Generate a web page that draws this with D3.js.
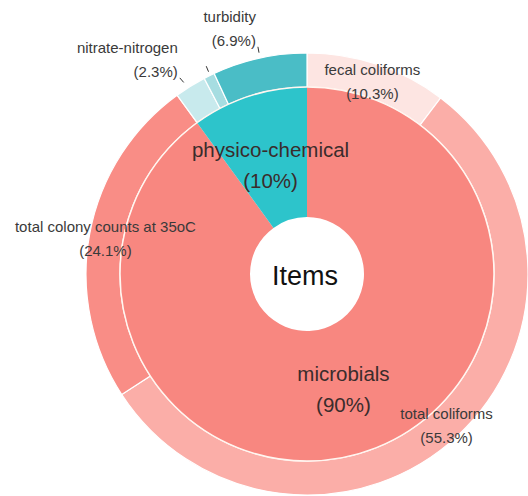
<!doctype html>
<html>
<head>
<meta charset="utf-8">
<script src="https://d3js.org/d3.v7.min.js"></script>
<style>
  body { margin: 0; background: #fff; }
  text { font-family: Arial, "Liberation Sans", sans-serif; }
</style>
</head>
<body>
<script>
// inner ring: groups
var categories = ["microbials", "physico-chemical"];
var categoryShares = [90, 10];
var categoryColors = ["#F88780", "#2DC4CB"];

// outer ring: items (one unlabeled sliver between nitrate-nitrogen and turbidity)
var items = ["fecal coliforms", "total coliforms", "total colony counts at 35oC", "nitrate-nitrogen", "", "turbidity"];
var itemGroup = ["microbials", "microbials", "microbials", "physico-chemical", "physico-chemical", "physico-chemical"];
var itemShares = [10.3, 55.3, 24.1, 2.3, 0.8, 6.9];
var itemColors = ["#FDE5E2", "#FBAEA8", "#F98D86", "#C8EAED", "#A6DDE1", "#4ABDC6"];

var width = 528, height = 496;
var cx = 307, cy = 274;
var rHole = 57, rInner = 187, rOuter = 221, rLabel = 205;

// labels that were pushed away from their slice
var repel = {
    "nitrate-nitrogen": [-21, -42],
    "": [-12, -44],
    "turbidity": [-7, -47]
};

var svg = d3.select("body").append("svg").attr("width", width).attr("height", height);
var g = svg.append("g").attr("transform", "translate(" + cx + "," + cy + ")");

var pie = d3.pie().sort(null).value(function (d) { return d.share; });
var groups = pie(categories.map(function (c, i) { return { name: c, share: categoryShares[i], color: categoryColors[i] }; }));

// place items inside their group's angle span
var outer = [];
groups.forEach(function (grp) {
    var idx = d3.range(items.length).filter(function (i) { return itemGroup[i] === grp.data.name; });
    var total = d3.sum(idx, function (i) { return itemShares[i]; });
    var a = d3.scaleLinear().domain([0, total]).range([grp.startAngle, grp.endAngle]);
    var acc = 0;
    idx.forEach(function (i) {
        outer.push({ name: items[i], share: itemShares[i], color: itemColors[i],
            startAngle: a(acc), endAngle: a(acc + itemShares[i]) });
        acc += itemShares[i];
    });
});

var arcInner = d3.arc().innerRadius(rHole).outerRadius(rInner);
var arcOuter = d3.arc().innerRadius(rInner).outerRadius(rOuter);

g.selectAll("path.outer")
    .data(outer)
    .enter()
    .append("path")
    .attr("class", "outer")
    .attr("d", arcOuter)
    .attr("fill", function (d) { return d.color; })
    .attr("stroke", "#fff")
    .attr("stroke-width", 1.2);

g.selectAll("path.inner")
    .data(groups)
    .enter()
    .append("path")
    .attr("class", "inner")
    .attr("d", arcInner)
    .attr("fill", function (d) { return d.data.color; })
    .attr("stroke", "none");

// thin ring between inner and outer
g.append("circle").attr("r", rInner).attr("fill", "none").attr("stroke", "#FFF6F0").attr("stroke-width", 1.5);

// inner labels
var arcInnerLabel = d3.arc().innerRadius(118).outerRadius(118);
groups.forEach(function (d) {
    var p = arcInnerLabel.centroid(d);
    var t = g.append("text").attr("text-anchor", "middle").attr("fill", "#3a2c2c").style("font-size", "20.5px");
    t.append("tspan").attr("x", p[0]).attr("y", p[1] - 5).text(d.data.name);
    t.append("tspan").attr("x", p[0]).attr("y", p[1] + 26).text("(" + d.data.share + "%)");
});

// outer labels
var arcLabel = d3.arc().innerRadius(rLabel).outerRadius(rLabel);
outer.forEach(function (d) {
    var p = arcLabel.centroid(d);
    var off = repel[d.name];
    var x = p[0], y = p[1], anchor = "middle";
    if (off) {
        x += off[0]; y += off[1]; anchor = "end";
        var sx = x + 2, sy = y + 20;
        var dx = p[0] - sx, dy = p[1] - sy, len = Math.sqrt(dx * dx + dy * dy);
        g.append("line")
            .attr("x1", sx).attr("y1", sy)
            .attr("x2", sx + 6 * dx / len).attr("y2", sy + 6 * dy / len)
            .attr("stroke", "#333").attr("stroke-width", 1);
    }
    if (d.name === "") return;
    var t = g.append("text").attr("text-anchor", anchor).attr("fill", "#3a3a3a").style("font-size", "15px");
    t.append("tspan").attr("x", x).attr("y", y - 5).text(d.name);
    t.append("tspan").attr("x", x).attr("y", y + 19).text("(" + d.share + "%)");
});

g.append("text")
    .attr("text-anchor", "middle")
    .attr("y", 11)
    .attr("x", -2)
    .attr("fill", "#111")
    .style("font-size", "27px")
    .text("Items");
</script>
</body>
</html>
